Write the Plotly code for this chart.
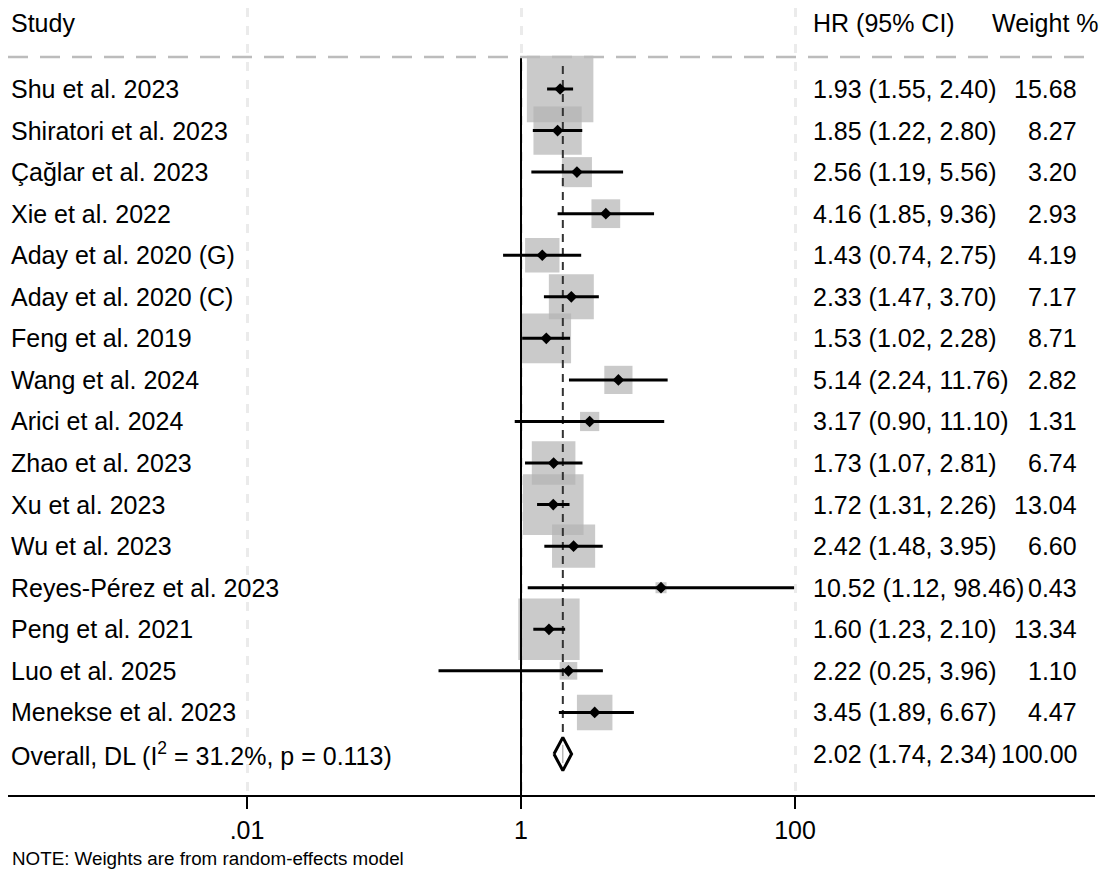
import plotly.graph_objects as go
import math

studies = ["Shu et al. 2023", "Shiratori et al. 2023", "Çağlar et al. 2023", "Xie et al. 2022",
           "Aday et al. 2020 (G)", "Aday et al. 2020 (C)", "Feng et al. 2019", "Wang et al. 2024",
           "Arici et al. 2024", "Zhao et al. 2023", "Xu et al. 2023", "Wu et al. 2023",
           "Reyes-Pérez et al. 2023", "Peng et al. 2021", "Luo et al. 2025", "Menekse et al. 2023"]
hr = [1.93, 1.85, 2.56, 4.16, 1.43, 2.33, 1.53, 5.14, 3.17, 1.73, 1.72, 2.42, 10.52, 1.60, 2.22, 3.45]
lo = [1.55, 1.22, 1.19, 1.85, 0.74, 1.47, 1.02, 2.24, 0.90, 1.07, 1.31, 1.48, 1.12, 1.23, 0.25, 1.89]
hi = [2.40, 2.80, 5.56, 9.36, 2.75, 3.70, 2.28, 11.76, 11.10, 2.81, 2.26, 3.95, 98.46, 2.10, 3.96, 6.67]
weights = [15.68, 8.27, 3.20, 2.93, 4.19, 7.17, 8.71, 2.82, 1.31, 6.74, 13.04, 6.60, 0.43, 13.34, 1.10, 4.47]

overall_label = "Overall, DL (I<sup>2</sup> = 31.2%, p = 0.113)"
overall_hr, overall_lo, overall_hi = 2.02, 1.74, 2.34
overall_weight = 100.00
note = "NOTE: Weights are from random-effects model"

tick_vals = [0.01, 1, 100]
tick_text = [".01", "1", "100"]

# page has an 8px body margin; work in page pixels and convert
OFF = 8
PAGE_W, PAGE_H = 1111, 874
W, H = PAGE_W - OFF, PAGE_H - OFF
FONT = "Liberation Sans, Arial, sans-serif"
FS = 25

n = len(studies)
rows = list(range(n))
overall_row = n

row0_px, row_step = 89, 41.56          # page px of first row, row spacing
plot_bottom_px = 795                   # page px of x axis line
def yrow(page_y):
    return (page_y - row0_px) / row_step
y_top = yrow(OFF)
y_bot = yrow(plot_bottom_px)
header_y = yrow(23)
hline_y = yrow(57)
dash_top = yrow(66)

one_px, decade_px = 521, 137.0
x_left_px, x_right_px = OFF, 1095
xr = [(x_left_px - one_px) / decade_px, (x_right_px - one_px) / decade_px]

def px(page_x):
    return (page_x - OFF) / W

fig = go.Figure()

# weight boxes
box_k = 66.5 / math.sqrt(15.68)
fig.add_trace(go.Scatter(
    x=hr, y=rows, mode="markers",
    marker=dict(symbol="square", size=[box_k * math.sqrt(w) for w in weights],
                color="#b4b4b4", line=dict(width=0)),
    hoverinfo="skip", showlegend=False))

# null line at 1
fig.add_trace(go.Scatter(x=[1, 1], y=[hline_y, y_bot], mode="lines",
                         line=dict(color="black", width=2), hoverinfo="skip", showlegend=False))

# overall dashed line
fig.add_trace(go.Scatter(x=[overall_hr, overall_hr], y=[dash_top, overall_row - 0.4], mode="lines",
                         line=dict(color="#333333", width=2, dash="8px,6px"),
                         hoverinfo="skip", showlegend=False))

# CI lines
cx, cy = [], []
for l, h, r in zip(lo, hi, rows):
    cx += [l, h, None]
    cy += [r, r, None]
fig.add_trace(go.Scatter(x=cx, y=cy, mode="lines", line=dict(color="black", width=3),
                         hoverinfo="skip", showlegend=False))

# point estimates
fig.add_trace(go.Scatter(x=hr, y=rows, mode="markers",
                         marker=dict(symbol="diamond", size=9, color="black", line=dict(width=0)),
                         hoverinfo="skip", showlegend=False))

# overall diamond
dh = 0.4
fig.add_trace(go.Scatter(
    x=[overall_lo, overall_hr, overall_hi, overall_hr, overall_lo],
    y=[overall_row, overall_row - dh, overall_row, overall_row + dh, overall_row],
    mode="lines", fill="toself", fillcolor="white",
    line=dict(color="black", width=3), hoverinfo="skip", showlegend=False))
fig.add_trace(go.Scatter(x=[overall_hr, overall_hr], y=[overall_row - 0.22, overall_row + 0.22],
                         mode="lines", line=dict(color="#999999", width=1),
                         hoverinfo="skip", showlegend=False))

ann = []
def txt(x, y, s, anchor="left", size=FS):
    ann.append(dict(x=px(x), xref="paper", y=y, yref="y", text=s, showarrow=False,
                    xanchor=anchor, yanchor="middle", borderpad=0,
                    font=dict(family=FONT, size=size, color="black")))

txt(10, header_y, "Study")
txt(812, header_y, "HR (95% CI)")
txt(1100, header_y, "Weight %", "right")
for s, h_, l, u, w, r in zip(studies, hr, lo, hi, weights, rows):
    txt(10, r, s)
    txt(812, r, f"{h_:.2f} ({l:.2f}, {u:.2f})")
    txt(1078, r, f"{w:.2f}", "right")
txt(10, overall_row, overall_label)
txt(812, overall_row, f"{overall_hr:.2f} ({overall_lo:.2f}, {overall_hi:.2f})")
txt(1078, overall_row, f"{overall_weight:.2f}", "right")

plot_h = plot_bottom_px - OFF
note_y = (plot_h - (858 - OFF)) / plot_h
ann.append(dict(x=px(10), xref="paper", y=note_y, yref="paper",
                text=note, showarrow=False, xanchor="left", yanchor="middle",
                font=dict(family=FONT, size=18.8, color="black")))

fig.update_layout(
    width=W, height=H, margin=dict(l=0, r=0, t=0, b=PAGE_H - plot_bottom_px),
    paper_bgcolor="white", plot_bgcolor="white",
    annotations=ann,
    shapes=[dict(type="line", xref="paper", yref="y", x0=px(OFF), x1=px(1093),
                 y0=hline_y, y1=hline_y, line=dict(color="#bcbcbc", width=2.5, dash="20px,12px"))],
    xaxis=dict(type="log", range=xr, domain=[px(x_left_px), px(x_right_px)],
               tickvals=tick_vals, ticktext=tick_text,
               showgrid=True, gridcolor="#ebebeb", gridwidth=3, griddash="dash",
               showline=True, linecolor="black", linewidth=2,
               ticks="outside", ticklen=12, tickwidth=2, tickcolor="black",
               tickfont=dict(family=FONT, size=25, color="black"), zeroline=False),
    yaxis=dict(range=[y_bot, y_top], showgrid=False, showticklabels=False, zeroline=False,
               showline=False, ticks=""),
)

fig.write_html("out.html")
